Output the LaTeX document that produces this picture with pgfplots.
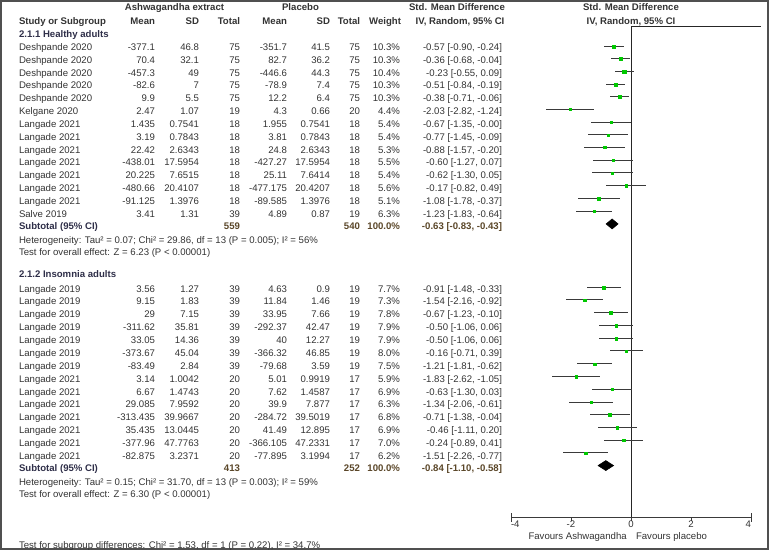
\documentclass[border=0pt]{standalone}
\usepackage{pgfplots}
\pgfplotsset{compat=1.18}
\usepackage{pgfplotstable}
\usepackage{fontspec}
\setmainfont{Liberation Sans}
\definecolor{txt}{HTML}{333333}
\definecolor{sqgreen}{HTML}{00C800}
\definecolor{cil}{HTML}{3A3A3A}
\definecolor{hdr}{HTML}{2E2E48}
\definecolor{subn}{HTML}{5A4628}
\definecolor{frame}{HTML}{505050}
\newcommand\tf{\fontsize{7.2}{8.6}\selectfont}

% y = minus pixel row of the marker
\pgfplotstableread{
y smd lo hi w
-46.0 -0.57 -0.90 -0.24 10.3
-58.5 -0.36 -0.68 -0.04 10.3
-71.0 -0.23 -0.55 0.09 10.4
-84.0 -0.51 -0.84 -0.19 10.3
-96.7 -0.38 -0.71 -0.06 10.3
-109.3 -2.03 -2.82 -1.24 4.4
-122.0 -0.67 -1.35 -0.00 5.4
-134.5 -0.77 -1.45 -0.09 5.4
-147.0 -0.88 -1.57 -0.20 5.3
-160.0 -0.60 -1.27 0.07 5.5
-172.7 -0.62 -1.30 0.05 5.4
-185.3 -0.17 -0.82 0.49 5.6
-198.3 -1.08 -1.78 -0.37 5.1
-211.0 -1.23 -1.83 -0.64 6.3
}\gA
\pgfplotstableread{
y smd lo hi w
-287.3 -0.91 -1.48 -0.33 7.7
-299.7 -1.54 -2.16 -0.92 7.3
-312.3 -0.67 -1.23 -0.10 7.8
-325.3 -0.50 -1.06 0.06 7.9
-338.0 -0.50 -1.06 0.06 7.9
-350.7 -0.16 -0.71 0.39 8.0
-363.7 -1.21 -1.81 -0.62 7.5
-376.3 -1.83 -2.62 -1.05 5.9
-389.0 -0.63 -1.30 0.03 6.9
-402.0 -1.34 -2.06 -0.61 6.3
-414.3 -0.71 -1.38 -0.04 6.8
-427.3 -0.46 -1.11 0.20 6.9
-440.0 -0.24 -0.89 0.41 7.0
-452.7 -1.51 -2.26 -0.77 6.2
}\gB

\newcommand\rstep{12.85}
\newcommand\cy{0}
\newcommand\row[9]{%
  \node[anchor=base west] at (19,\cy) {#1};
  \node[anchor=base east] at (155,\cy) {#2};
  \node[anchor=base east] at (199,\cy) {#3};
  \node[anchor=base east] at (240,\cy) {#4};
  \node[anchor=base east] at (287,\cy) {#5};
  \node[anchor=base east] at (330,\cy) {#6};
  \node[anchor=base east] at (360,\cy) {#7};
  \node[anchor=base east] at (400,\cy) {#8\%};
  \node[anchor=base east] at (502,\cy) {#9};
  \pgfmathsetmacro\tmp{\cy+\rstep}\xdef\cy{\tmp}}

\pgfplotsset{
  ci/.style={draw=none, mark=none, forget plot,
    error bars/.cd, x dir=both, x explicit, error mark=none,
    error bar style={cil, line width=0.75pt}},
  sq/.style={scatter, only marks, mark=square*, forget plot,
    visualization depends on={\thisrow{w} \as \wt},
    scatter/@pre marker code/.code={%
      \pgfmathsetmacro\ms{0.36*sqrt(\wt)}%
      \scope[mark size=\ms pt, fill=sqgreen, draw=sqgreen, line width=0.1pt]},
    scatter/@post marker code/.code={\endscope}},
}

\begin{document}
\begin{tikzpicture}
\begin{scope}[x=0.75pt,y=-0.75pt]
\useasboundingbox (0,0) rectangle (770,550);
\end{scope}
\begin{axis}[
  at={(383.25pt,-387.75pt)}, anchor=south west,
  scale only axis, width=180pt, height=368.25pt,
  xmin=-4, xmax=4, ymin=-517, ymax=-26,
  clip=false,
  axis y line=none, axis x line*=bottom,
  x axis line style={-, cil, line width=0.75pt},
  xtick={-4,-2,0,2,4},
  xticklabels={\makebox[0pt][l]{-4},-2,0,2,\makebox[0pt][r]{4}},
  tick align=outside, major tick length=3pt,
  tick style={cil, line width=0.75pt},
  extra x ticks={-4,4}, extra x tick labels={},
  extra x tick style={tick align=center, major tick length=6.5pt},
  xticklabel style={anchor=base, font=\tf, text=txt, inner sep=0pt, yshift=-4.9pt},
]
\addplot[black!85, line width=0.75pt, forget plot] coordinates {(0,-26) (0,-517)};
\addplot[black!85, line width=0.75pt, forget plot] coordinates {(0,-26) (4.33,-26)};
\addplot[ci] table[x=smd, y=y, x error plus expr=\thisrow{hi}-\thisrow{smd}, x error minus expr=\thisrow{smd}-\thisrow{lo}] {\gA};
\addplot[ci] table[x=smd, y=y, x error plus expr=\thisrow{hi}-\thisrow{smd}, x error minus expr=\thisrow{smd}-\thisrow{lo}] {\gB};
\addplot[sq] table[x=smd, y=y] {\gA};
\addplot[sq] table[x=smd, y=y] {\gB};
\addplot[fill=black, draw=black, forget plot] coordinates {(-0.83,-223.7) (-0.63,-218.7) (-0.43,-223.7) (-0.63,-228.7)} -- cycle;
\addplot[fill=black, draw=black, forget plot] coordinates {(-1.10,-465.3) (-0.84,-460.3) (-0.58,-465.3) (-0.84,-470.3)} -- cycle;
\end{axis}
\begin{scope}[x=0.75pt,y=-0.75pt, every node/.style={inner sep=0pt, outer sep=0pt, text=txt, font=\tf}]
\draw[frame, line width=1.5pt] (1,0.75) rectangle (767.5,549);
% headers
\begin{scope}[every node/.append style={font=\tf\bfseries}]
\node[anchor=base] at (174.5,10.5) {Ashwagandha extract};
\node[anchor=base] at (300.5,10.5) {Placebo};
\node[anchor=base] at (457,10.5) {Std. Mean Difference};
\node[anchor=base] at (631,10.5) {Std. Mean Difference};
\node[anchor=base west] at (19,24.2) {Study or Subgroup};
\node[anchor=base east] at (155,24.2) {Mean};
\node[anchor=base east] at (199,24.2) {SD};
\node[anchor=base east] at (240,24.2) {Total};
\node[anchor=base east] at (287,24.2) {Mean};
\node[anchor=base east] at (330,24.2) {SD};
\node[anchor=base east] at (360,24.2) {Total};
\node[anchor=base east] at (401,24.2) {Weight};
\node[anchor=base] at (460,24.2) {IV, Random, 95\% CI};
\node[anchor=base] at (631,24.2) {IV, Random, 95\% CI};
\node[anchor=base west, text=hdr] at (19,36.8) {2.1.1 Healthy adults};
\node[anchor=base west, text=hdr] at (19,277.5) {2.1.2 Insomnia adults};
\node[anchor=base west, text=hdr] at (19,228.8) {Subtotal (95\% CI)};
\node[anchor=base east, text=subn] at (240,228.8) {559};
\node[anchor=base east, text=subn] at (360,228.8) {540};
\node[anchor=base east, text=subn] at (400,228.8) {100.0\%};
\node[anchor=base east, text=subn] at (502,228.8) {-0.63 [-0.83, -0.43]};
\node[anchor=base west, text=hdr] at (19,471.2) {Subtotal (95\% CI)};
\node[anchor=base east, text=subn] at (240,471.2) {413};
\node[anchor=base east, text=subn] at (360,471.2) {252};
\node[anchor=base east, text=subn] at (400,471.2) {100.0\%};
\node[anchor=base east, text=subn] at (502,471.2) {-0.84 [-1.10, -0.58]};
\end{scope}
% group 1
\renewcommand\rstep{12.82}\xdef\cy{50.2}
\row{Deshpande 2020}{-377.1}{46.8}{75}{-351.7}{41.5}{75}{10.3}{-0.57 [-0.90, -0.24]}
\row{Deshpande 2020}{70.4}{32.1}{75}{82.7}{36.2}{75}{10.3}{-0.36 [-0.68, -0.04]}
\row{Deshpande 2020}{-457.3}{49}{75}{-446.6}{44.3}{75}{10.4}{-0.23 [-0.55, 0.09]}
\row{Deshpande 2020}{-82.6}{7}{75}{-78.9}{7.4}{75}{10.3}{-0.51 [-0.84, -0.19]}
\row{Deshpande 2020}{9.9}{5.5}{75}{12.2}{6.4}{75}{10.3}{-0.38 [-0.71, -0.06]}
\row{Kelgane 2020}{2.47}{1.07}{19}{4.3}{0.66}{20}{4.4}{-2.03 [-2.82, -1.24]}
\row{Langade 2021}{1.435}{0.7541}{18}{1.955}{0.7541}{18}{5.4}{-0.67 [-1.35, -0.00]}
\row{Langade 2021}{3.19}{0.7843}{18}{3.81}{0.7843}{18}{5.4}{-0.77 [-1.45, -0.09]}
\row{Langade 2021}{22.42}{2.6343}{18}{24.8}{2.6343}{18}{5.3}{-0.88 [-1.57, -0.20]}
\row{Langade 2021}{-438.01}{17.5954}{18}{-427.27}{17.5954}{18}{5.5}{-0.60 [-1.27, 0.07]}
\row{Langade 2021}{20.225}{7.6515}{18}{25.11}{7.6414}{18}{5.4}{-0.62 [-1.30, 0.05]}
\row{Langade 2021}{-480.66}{20.4107}{18}{-477.175}{20.4207}{18}{5.6}{-0.17 [-0.82, 0.49]}
\row{Langade 2021}{-91.125}{1.3976}{18}{-89.585}{1.3976}{18}{5.1}{-1.08 [-1.78, -0.37]}
\row{Salve 2019}{3.41}{1.31}{39}{4.89}{0.87}{19}{6.3}{-1.23 [-1.83, -0.64]}
\node[anchor=base west] at (19,242.8) {Heterogeneity: Tau² = 0.07; Chi² = 29.86, df = 13 (P = 0.005); I² = 56\%};
\node[anchor=base west] at (19,255.5) {Test for overall effect: Z = 6.23 (P < 0.00001)};
% group 2
\renewcommand\rstep{12.88}\xdef\cy{291.8}
\row{Langade 2019}{3.56}{1.27}{39}{4.63}{0.9}{19}{7.7}{-0.91 [-1.48, -0.33]}
\row{Langade 2019}{9.15}{1.83}{39}{11.84}{1.46}{19}{7.3}{-1.54 [-2.16, -0.92]}
\row{Langade 2019}{29}{7.15}{39}{33.95}{7.66}{19}{7.8}{-0.67 [-1.23, -0.10]}
\row{Langade 2019}{-311.62}{35.81}{39}{-292.37}{42.47}{19}{7.9}{-0.50 [-1.06, 0.06]}
\row{Langade 2019}{33.05}{14.36}{39}{40}{12.27}{19}{7.9}{-0.50 [-1.06, 0.06]}
\row{Langade 2019}{-373.67}{45.04}{39}{-366.32}{46.85}{19}{8.0}{-0.16 [-0.71, 0.39]}
\row{Langade 2019}{-83.49}{2.84}{39}{-79.68}{3.59}{19}{7.5}{-1.21 [-1.81, -0.62]}
\row{Langade 2021}{3.14}{1.0042}{20}{5.01}{0.9919}{17}{5.9}{-1.83 [-2.62, -1.05]}
\row{Langade 2021}{6.67}{1.4743}{20}{7.62}{1.4587}{17}{6.9}{-0.63 [-1.30, 0.03]}
\row{Langade 2021}{29.085}{7.9592}{20}{39.9}{7.877}{17}{6.3}{-1.34 [-2.06, -0.61]}
\row{Langade 2021}{-313.435}{39.9667}{20}{-284.72}{39.5019}{17}{6.8}{-0.71 [-1.38, -0.04]}
\row{Langade 2021}{35.435}{13.0445}{20}{41.49}{12.895}{17}{6.9}{-0.46 [-1.11, 0.20]}
\row{Langade 2021}{-377.96}{47.7763}{20}{-366.105}{47.2331}{17}{7.0}{-0.24 [-0.89, 0.41]}
\row{Langade 2021}{-82.875}{3.2371}{20}{-77.895}{3.1994}{17}{6.2}{-1.51 [-2.26, -0.77]}
\node[anchor=base west] at (19,485.5) {Heterogeneity: Tau² = 0.15; Chi² = 31.70, df = 13 (P = 0.003); I² = 59\%};
\node[anchor=base west] at (19,497.5) {Test for overall effect: Z = 6.30 (P < 0.00001)};
\node[anchor=base west] at (19,548) {Test for subgroup differences: Chi² = 1.53, df = 1 (P = 0.22), I² = 34.7\%};
\node[anchor=base east] at (626.7,539.5) {Favours Ashwagandha};
\node[anchor=base west] at (636,539.5) {Favours placebo};
\end{scope}
\end{tikzpicture}
\end{document}
